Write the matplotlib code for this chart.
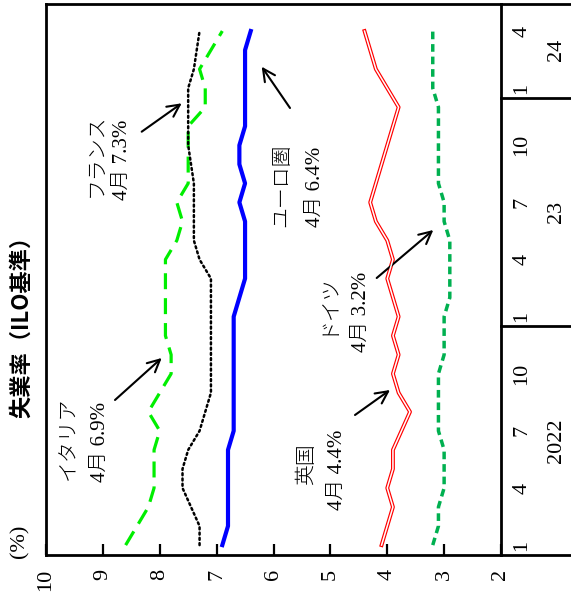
import matplotlib
matplotlib.use("Agg")
import matplotlib.pyplot as plt
from matplotlib.lines import Line2D

# ---------------- data ----------------
months_idx = list(range(28))  # 2022-01 .. 2024-04
month_tick_pos = [0, 3, 6, 9, 12, 15, 18, 21, 24, 27]
month_tick_labels = ["1", "4", "7", "10", "1", "4", "7", "10", "1", "4"]
year_labels = ["2022", "23", "24"]
year_label_pos = [5.5, 17.5, 26.0]
year_separators = [11.5, 23.5]

value_ticks = [10, 9, 8, 7, 6, 5, 4, 3, 2]

italy = [8.6, 8.4, 8.2, 8.1, 8.1, 8.1, 8.0, 8.2, 8.0, 7.8, 7.8, 7.9, 7.9, 7.9,
         7.9, 7.9, 7.7, 7.6, 7.7, 7.5, 7.5, 7.5, 7.5, 7.2, 7.2, 7.3, 7.1, 6.9]
france = [7.3, 7.3, 7.45, 7.6, 7.6, 7.5, 7.3, 7.2, 7.1, 7.1, 7.1, 7.1, 7.1, 7.1,
          7.1, 7.3, 7.4, 7.4, 7.4, 7.4, 7.45, 7.5, 7.5, 7.5, 7.5, 7.4, 7.35, 7.3]
eurozone = [6.9, 6.8, 6.8, 6.8, 6.8, 6.8, 6.7, 6.7, 6.7, 6.7, 6.7, 6.7, 6.7, 6.6,
            6.5, 6.5, 6.5, 6.5, 6.6, 6.5, 6.6, 6.6, 6.5, 6.5, 6.5, 6.5, 6.5, 6.4]
uk = [4.1, 4.0, 3.9, 4.0, 3.9, 3.9, 3.75, 3.6, 3.8, 3.9, 3.8, 3.9, 3.8, 3.9,
      4.0, 3.9, 4.0, 4.2, 4.3, 4.2, 4.1, 4.0, 3.9, 3.8, 4.0, 4.2, 4.3, 4.4]
germany = [3.2, 3.1, 3.1, 3.0, 3.0, 3.0, 3.1, 3.1, 3.1, 3.1, 3.0, 3.0, 3.0, 2.9,
           2.9, 2.9, 2.9, 3.0, 3.0, 3.1, 3.1, 3.1, 3.1, 3.1, 3.2, 3.2, 3.2, 3.2]

title = "失業率（ILO基準）"
unit = "(%)"

# ---------------- figure ----------------
W, H = 571, 611
fig = plt.figure(figsize=(W / 100, H / 100), dpi=100)


def px(x, y):
    return (x / W, 1 - y / H)


ax_l, ax_r, ax_t, ax_b = 46, 501, 4, 555
ax = fig.add_axes([ax_l / W, 1 - ax_b / H, (ax_r - ax_l) / W, (ax_b - ax_t) / H])
ax.set_xlim(10, 2)
ax.set_ylim(-0.52, 28.42)

serif = ["Liberation Serif", "DejaVu Serif"]
jp = ["Liberation Serif", "Noto Sans CJK JP"]

# lines (time on vertical axis, value on horizontal axis)
ax.plot(italy, months_idx, color="#00ee00", lw=2.3, ls=(0, (5, 2.8)), zorder=3)
ax.plot(france, months_idx, color="black", lw=1.8, ls=(0, (0.8, 1.3)),
        dash_capstyle="round", zorder=3)
ax.plot(eurozone, months_idx, color="#0000ff", lw=3.0, zorder=3)
ax.plot(uk, months_idx, color="#ff0000", lw=2.8, zorder=3)
ax.plot(uk, months_idx, color="white", lw=1.1, zorder=4)
ax.plot(germany, months_idx, color="#00b050", lw=2.5, ls=(0, (2.2, 1.4)), zorder=3)

# spines
for s in ax.spines.values():
    s.set_linewidth(2.0)
    s.set_color("black")

# value ticks (bottom)
ax.set_xticks(value_ticks)
ax.set_xticklabels([str(v) for v in value_ticks], rotation=90,
                   fontfamily=serif, fontsize=16)
ax.tick_params(axis="x", direction="in", length=8, width=1.6, pad=10)
for lbl in ax.get_xticklabels():
    lbl.set_va("top")
    lbl.set_ha("center")

# time axis: no ticks, custom labels on the right side
ax.set_yticks([])
tr = ax.get_yaxis_transform()
xm = (522 - ax_l) / (ax_r - ax_l)
xy = (557 - ax_l) / (ax_r - ax_l)
xe = (W - ax_l) / (ax_r - ax_l)
for p, t in zip(month_tick_pos, month_tick_labels):
    ax.text(xm, p, t, transform=tr, rotation=90, ha="center", va="center",
            fontfamily=serif, fontsize=16, clip_on=False)
for p, t in zip(year_label_pos, year_labels):
    ax.text(xy, p, t, transform=tr, rotation=90, ha="center", va="center",
            fontfamily=serif, fontsize=16, clip_on=False)
ylo, yhi = ax.get_ylim()
for yv in year_separators + [ylo, yhi]:
    ax.add_line(Line2D([1, xe], [yv, yv], transform=tr, color="black",
                       lw=2.0, clip_on=False))

# title and unit
fig.text(*px(22, 321), title, rotation=90, ha="center", va="center",
         fontfamily=["Noto Sans CJK JP"], fontweight="bold", fontsize=16)
fig.text(*px(20, 541), unit, rotation=90, ha="center", va="center",
         fontfamily=serif, fontsize=16)

# annotations: (text, center x px, bottom y px)
labels = [
    ("フランス", 97, 197), ("4月 7.3%", 122, 200),
    ("イタリア", 70, 480), ("4月 6.9%", 100, 482),
    ("ユーロ圏", 283, 227), ("4月 6.4%", 315, 227),
    ("ドイツ", 328, 335), ("4月 3.2%", 361, 352),
    ("英国", 307, 485), ("4月 4.4%", 337, 510),
]
for t, x, y in labels:
    fig.text(*px(x, y), t, rotation=90, ha="center", va="bottom",
             fontfamily=jp, fontsize=15, fontweight="light")

arrows = [
    ((141.7, 131.7), (181.7, 103.3)),
    ((115, 400), (161.7, 358)),
    ((290, 108), (261.7, 66.7)),
    ((376.7, 278), (433.3, 230)),
    ((355, 415), (390, 390)),
]
for (x0, y0), (x1, y1) in arrows:
    ax.annotate("", xy=px(x1, y1), xytext=px(x0, y0),
                xycoords="figure fraction", textcoords="figure fraction",
                arrowprops=dict(arrowstyle="->", lw=1.5, color="black",
                                mutation_scale=22, shrinkA=0, shrinkB=0))

fig.savefig("out.png", dpi=100)
